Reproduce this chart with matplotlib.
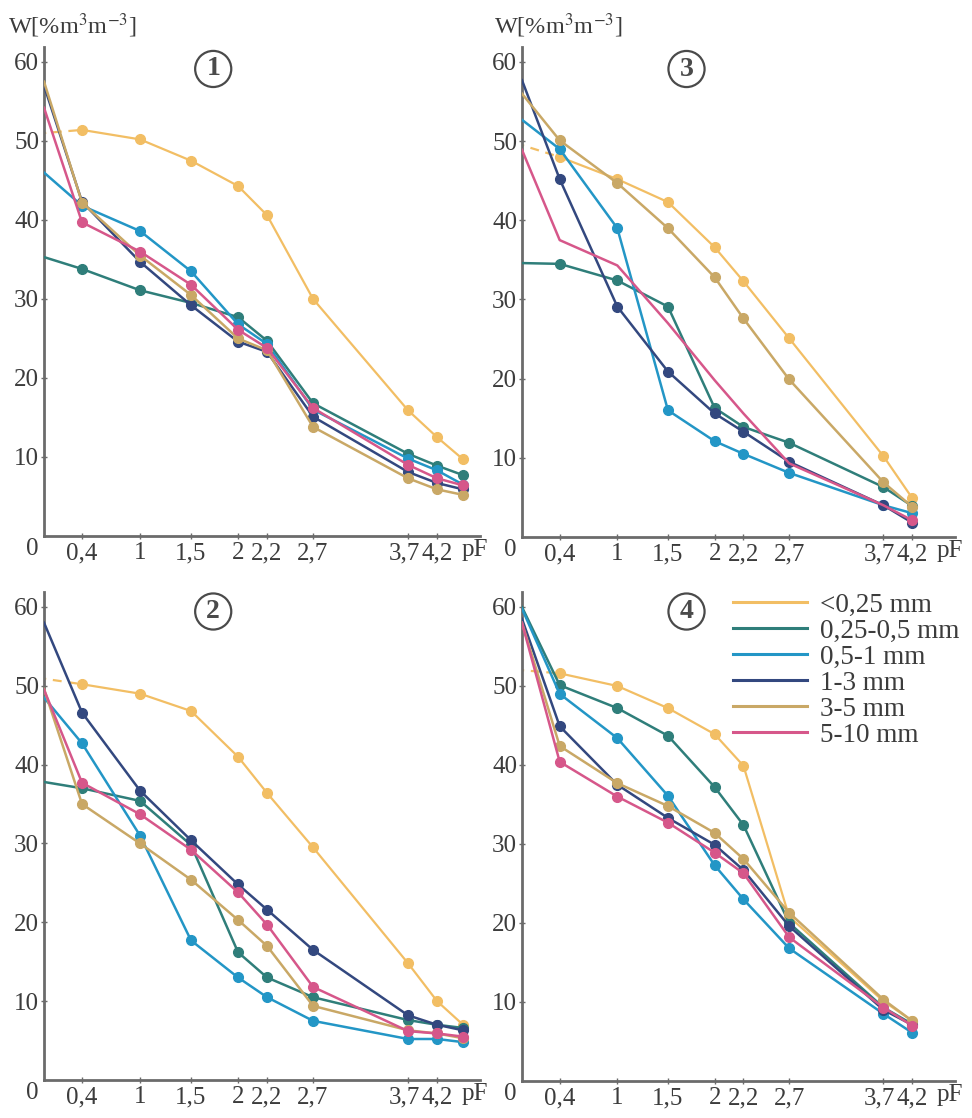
import matplotlib
matplotlib.use("Agg")
import matplotlib.pyplot as plt
import matplotlib.transforms as mtransforms
import numpy as np

plt.rcParams['font.family'] = ['Liberation Serif', 'DejaVu Serif']
plt.rcParams['mathtext.fontset'] = 'stix'

# pF values (panels 1 and 2 have one extra point past 4,2)
pf_long = [0, 0.4, 1, 1.5, 2, 2.2, 2.7, 3.7, 4.2, 4.5]
pf_short = [0, 0.4, 1, 1.5, 2, 2.2, 2.7, 3.7, 4.2]
tick_pf = [0.4, 1, 1.5, 2, 2.2, 2.7, 3.7, 4.2]
tick_labels = ['0,4', '1', '1,5', '2', '2,2', '2,7', '3,7', '4,2']

series = ['<0,25 mm', '0,25-0,5 mm', '0,5-1 mm', '1-3 mm', '3-5 mm', '5-10 mm']
colors = ['#F2BE64', '#2F7E7A', '#2396C6', '#33487F', '#C9A866', '#D6578A']

panel1 = {
    '<0,25 mm':    [51.0, 51.4, 50.2, 47.5, 44.3, 40.6, 30.0, 15.9, 12.5, 9.7],
    '0,25-0,5 mm': [35.3, 33.8, 31.1, 29.5, 27.7, 24.7, 16.8, 10.4, 8.9, 7.7],
    '0,5-1 mm':    [46.0, 41.8, 38.6, 33.5, 26.8, 24.3, 16.0, 9.8, 8.3, 6.5],
    '1-3 mm':      [57.0, 42.3, 34.7, 29.2, 24.6, 23.3, 15.1, 8.1, 6.7, 5.9],
    '3-5 mm':      [57.5, 42.2, 35.5, 30.5, 25.0, 23.5, 13.8, 7.3, 5.9, 5.2],
    '5-10 mm':     [54.2, 39.7, 36.0, 31.8, 26.1, 23.8, 16.2, 9.0, 7.3, 6.4],
}
panel2 = {
    '<0,25 mm':    [50.9, 50.2, 49.0, 46.8, 41.0, 36.4, 29.5, 14.8, 10.0, 7.0],
    '0,25-0,5 mm': [37.8, 37.0, 35.4, 29.8, 16.2, 13.0, 10.5, 7.6, 7.0, 6.6],
    '0,5-1 mm':    [48.5, 42.7, 31.0, 17.7, 13.0, 10.5, 7.5, 5.2, 5.2, 4.8],
    '1-3 mm':      [58.0, 46.6, 36.7, 30.4, 24.8, 21.6, 16.5, 8.2, 7.0, 6.3],
    '3-5 mm':      [49.6, 35.0, 30.0, 25.4, 20.3, 17.0, 9.4, 6.3, 5.9, 5.3],
    '5-10 mm':     [49.5, 37.7, 33.7, 29.2, 23.8, 19.7, 11.8, 6.2, 5.9, 5.5],
}
panel3 = {
    '<0,25 mm':    [49.5, 48.0, 45.2, 42.3, 36.6, 32.3, 25.1, 10.2, 4.9],
    '0,25-0,5 mm': [34.6, 34.5, 32.4, 29.1, 16.3, 13.9, 11.9, 6.3, 3.9],
    '0,5-1 mm':    [52.7, 49.0, 39.0, 16.0, 12.1, 10.5, 8.1, 4.0, 3.0],
    '1-3 mm':      [57.7, 45.2, 29.1, 20.9, 15.6, 13.3, 9.5, 4.0, 1.8],
    '3-5 mm':      [56.0, 50.1, 44.7, 39.0, 32.8, 27.6, 19.9, 6.9, 3.8],
    '5-10 mm':     [48.9, 37.5, 34.3, 27.0, 19.8, 15.6, 9.3, 4.0, 2.1],
}
panel4 = {
    '<0,25 mm':    [52.0, 51.6, 50.0, 47.2, 43.9, 39.9, 20.8, 10.1, 7.6],
    '0,25-0,5 mm': [60.0, 50.1, 47.2, 43.7, 37.2, 32.4, 20.0, 9.3, 7.2],
    '0,5-1 mm':    [59.8, 49.0, 43.4, 36.1, 27.3, 23.0, 16.8, 8.5, 6.1],
    '1-3 mm':      [58.5, 44.9, 37.5, 33.3, 29.9, 26.7, 19.6, 9.0, 7.1],
    '3-5 mm':      [58.0, 42.4, 37.7, 34.8, 31.4, 28.1, 21.3, 10.3, 7.6],
    '5-10 mm':     [58.0, 40.4, 36.0, 32.7, 28.9, 26.3, 18.2, 9.3, 7.0],
}

# uneven spacing of the pF axis as printed
knots_pf = [0, 0.4, 1, 1.5, 2, 2.2, 2.7, 3.7, 4.2, 4.5, 4.8]
knots_pos = [0, 38, 96, 147, 194, 223, 269, 364, 393, 419, 436]


def fwd(x):
    return np.interp(x, knots_pf, knots_pos)


def inv(x):
    return np.interp(x, knots_pos, knots_pf)


axis_col = '#6b6b6b'
text_col = '#3c3c3c'
fs = 18

fig = plt.figure(figsize=(9.72, 11.18), dpi=100)

panels = [
    (panel1, pf_long, [0.0453, 0.5206, 0.4486, 0.4374], '1'),
    (panel3, pf_short, [0.537, 0.5197, 0.4455, 0.4383], '3'),
    (panel2, pf_long, [0.0453, 0.0340, 0.4486, 0.4365], '2'),
    (panel4, pf_short, [0.537, 0.0331, 0.4455, 0.4374], '4'),
]

for data, pf, rect, num in panels:
    ax = fig.add_axes(rect)
    ax.set_xscale('function', functions=(fwd, inv))
    for i, name in enumerate(series):
        vals = data[name]
        n = len(vals)
        col = colors[i]
        marks = list(range(1, n))
        if num == '3' and name == '5-10 mm':
            marks = [n - 1]
        if i == 0:
            ax.plot(pf[:2], vals[:2], color=col, lw=1.6, ls=(3, (4, 3)), zorder=2)
            ax.plot(pf[1:], vals[1:], color=col, lw=1.6, marker='o', ms=7,
                    zorder=2, label=name)
        else:
            ax.plot(pf, vals, color=col, lw=1.8, marker='o', ms=7,
                    markevery=marks, zorder=3 + i, label=name)

    ax.set_xlim(0, 4.8)
    ax.set_ylim(0, 61.9)
    for s in ['top', 'right']:
        ax.spines[s].set_visible(False)
    for s in ['left', 'bottom']:
        ax.spines[s].set_color(axis_col)
        ax.spines[s].set_linewidth(2)
    ax.set_xticks(tick_pf)
    ax.set_xticklabels(tick_labels)
    ax.set_yticks([10, 20, 30, 40, 50, 60])
    ax.tick_params(axis='both', direction='inout', length=5, width=1,
                   color=axis_col, labelsize=fs, labelcolor=text_col)
    ax.tick_params(axis='x', pad=2)
    ax.tick_params(axis='y', pad=1)
    ax.set_facecolor('none')

    # '3,7' sits a little left of its tick, as printed
    lab37 = ax.get_xticklabels()[6]
    lab37.set_transform(lab37.get_transform() +
                        mtransforms.ScaledTranslation(-0.04, 0, fig.dpi_scale_trans))

    ax.text(-0.027, -0.026, '0', transform=ax.transAxes, ha='center', va='center',
            fontsize=fs, color=text_col)
    ax.text(0.988, -0.029, 'pF', transform=ax.transAxes, ha='center', va='center',
            fontsize=fs, color=text_col)

    # circled panel number
    ax.text(0.388 if num in '12' else 0.38, 0.955 if num in '13' else 0.96, num,
            transform=ax.transAxes, ha='center', va='center', fontsize=20,
            fontweight='bold', color='#4a4a4a',
            bbox=dict(boxstyle='circle,pad=0.2', fc='white', ec='#4a4a4a', lw=1.6))

    if num == '4':
        handles = [plt.Line2D([], [], color=c, lw=2.2) for c in colors]
        fig.legend(handles, series, loc='upper left',
                   bbox_to_anchor=(0.754, 0.470), frameon=False, fontsize=19.5,
                   handlelength=2.75, handletextpad=0.45, labelspacing=0.04,
                   borderpad=0, borderaxespad=0, labelcolor=text_col)

ylab = 'W[%m$^3$m$^{-3}$]'
fig.text(0.008, 0.977, ylab, ha='left', va='center', fontsize=17.5, color=text_col)
fig.text(0.508, 0.977, ylab, ha='left', va='center', fontsize=17.5, color=text_col)

fig.savefig('out.png', dpi=100, facecolor='white')
